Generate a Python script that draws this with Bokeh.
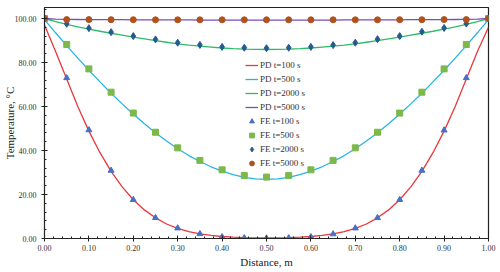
from bokeh.plotting import figure
from bokeh.models import Range1d, SingleIntervalTicker, Legend, LegendItem, NumeralTickFormatter
from bokeh.embed import file_html
from bokeh.resources import INLINE

# PD (line) data
x_pd = [0.0, 0.025, 0.05, 0.075, 0.1, 0.125, 0.15, 0.175, 0.2, 0.225, 0.25, 0.275, 0.3, 0.325, 0.35,
        0.375, 0.4, 0.425, 0.45, 0.475, 0.5, 0.525, 0.55, 0.575, 0.6, 0.625, 0.65, 0.675, 0.7, 0.725,
        0.75, 0.775, 0.8, 0.825, 0.85, 0.875, 0.9, 0.925, 0.95, 0.975, 1.0]
pd_100 = [97.0, 85.0, 72.5, 60.0, 48.8, 39.0, 30.5, 23.5, 17.6, 13.0, 9.4, 6.6, 4.6, 3.1, 2.1,
          1.4, 0.9, 0.6, 0.4, 0.3, 0.3, 0.3, 0.4, 0.6, 0.9, 1.4, 2.1, 3.1, 4.6, 6.6,
          9.4, 13.0, 17.6, 23.5, 30.5, 39.0, 48.8, 60.0, 72.5, 85.0, 96.0]
pd_500 = [99.5, 93.5, 87.7, 82.0, 76.5, 71.2, 66.0, 61.2, 56.6, 52.2, 48.1, 44.3, 40.8, 37.7, 35.0,
          32.6, 30.6, 29.0, 27.8, 27.1, 26.9, 27.1, 27.8, 29.0, 30.6, 32.6, 35.0, 37.7, 40.8, 44.3,
          48.1, 52.2, 56.6, 61.2, 66.0, 71.2, 76.5, 82.0, 87.7, 93.5, 99.5]
pd_2000 = [100.0, 98.6, 97.3, 96.2, 95.2, 94.2, 93.3, 92.4, 91.5, 90.7, 89.9, 89.2, 88.5, 87.9, 87.4,
           87.0, 86.6, 86.3, 86.1, 86.0, 85.9, 86.0, 86.1, 86.3, 86.6, 87.0, 87.4, 87.9, 88.5, 89.2,
           89.9, 90.7, 91.5, 92.4, 93.3, 94.2, 95.2, 96.2, 97.3, 98.6, 100.0]
pd_5000 = [100.0, 99.75, 99.6, 99.55, 99.5, 99.5, 99.45, 99.45, 99.4, 99.4, 99.4, 99.35, 99.35, 99.35, 99.3,
           99.3, 99.3, 99.3, 99.3, 99.3, 99.3, 99.3, 99.3, 99.3, 99.3, 99.3, 99.3, 99.35, 99.35, 99.35,
           99.4, 99.4, 99.4, 99.45, 99.45, 99.5, 99.5, 99.55, 99.6, 99.75, 100.0]

# FE (marker) data
x_fe = [0.0, 0.05, 0.1, 0.15, 0.2, 0.25, 0.3, 0.35, 0.4, 0.45, 0.5,
        0.55, 0.6, 0.65, 0.7, 0.75, 0.8, 0.85, 0.9, 0.95, 1.0]
fe_100 = [100.0, 73.0, 49.3, 30.9, 17.6, 9.4, 4.7, 2.1, 0.7, 0.2, 0.1,
          0.2, 0.7, 2.0, 4.7, 9.4, 17.6, 30.9, 49.2, 73.0, 100.0]
fe_500 = [100.0, 88.2, 77.1, 66.5, 57.0, 48.3, 41.2, 35.5, 31.2, 28.6, 27.9,
          28.6, 31.2, 35.5, 41.2, 48.3, 57.0, 66.5, 77.1, 88.2, 100.0]
fe_2000 = [100.0, 97.6, 95.6, 93.8, 92.0, 90.5, 89.0, 88.0, 87.1, 86.7, 86.5,
           86.7, 87.1, 87.9, 89.0, 90.6, 92.0, 94.0, 95.7, 97.7, 100.0]
fe_5000 = [100.0, 99.5, 99.5, 99.45, 99.45, 99.4, 99.4, 99.4, 99.4, 99.4, 99.4,
           99.4, 99.4, 99.4, 99.4, 99.4, 99.45, 99.45, 99.5, 99.5, 100.0]

x_ticks_interval = 0.1
y_ticks_interval = 20

FONT = "Liberation Serif"

p = figure(width=500, height=272, output_backend="svg", toolbar_location=None,
           x_range=Range1d(0, 1), y_range=Range1d(0, 105),
           min_border_left=43, min_border_right=12, min_border_top=7, min_border_bottom=34)
p.xgrid.visible = False
p.ygrid.visible = False
p.outline_line_color = "#222222"
p.outline_line_width = 1.2
p.background_fill_color = "white"
p.border_fill_color = "white"

p.xaxis.ticker = SingleIntervalTicker(interval=x_ticks_interval, num_minor_ticks=5)
p.yaxis.ticker = SingleIntervalTicker(interval=y_ticks_interval, num_minor_ticks=5)
p.xaxis.formatter = NumeralTickFormatter(format="0.00")
p.yaxis.formatter = NumeralTickFormatter(format="0.00")
for ax in (p.xaxis[0], p.yaxis[0]):
    ax.major_tick_in = 3
    ax.major_tick_out = 3
    ax.minor_tick_in = 2
    ax.minor_tick_out = 0
    ax.axis_line_color = "#222222"
    ax.major_tick_line_color = "#222222"
    ax.minor_tick_line_color = "#222222"
    ax.major_label_text_font = FONT
    ax.major_label_text_font_size = "8px"
    ax.major_label_text_color = "#333333"
    ax.axis_label_text_font = FONT
    ax.axis_label_text_font_size = "11px"
    ax.axis_label_text_font_style = "normal"
    ax.axis_label_text_color = "#222222"
p.xaxis.axis_label = "Distance, m"
p.yaxis.axis_label = "Temperature, °C"
p.xaxis.major_label_standoff = 3
p.yaxis.major_label_standoff = 5
p.xaxis.axis_label_standoff = 2
p.yaxis.axis_label_standoff = -4

lw = 1.3
r1 = p.line(x_pd, pd_100, line_color="#e8383b", line_width=lw)
r2 = p.line(x_pd, pd_500, line_color="#27b4e3", line_width=lw)
r3 = p.line(x_pd, pd_2000, line_color="#2dbb6a", line_width=lw)
r4 = p.line(x_pd, pd_5000, line_color="#7a4db8", line_width=lw)

m1 = p.scatter(x_fe, fe_100, marker="triangle", size=6, fill_color="#4a6fc6", line_color="#4a6fc6")
m2 = p.scatter(x_fe, fe_500, marker="square", size=6, fill_color="#7cb84a", line_color="#7cb84a")
m3 = p.scatter(x_fe, fe_2000, marker="diamond", size=7, fill_color="#245b8e", line_color="#245b8e")
m4 = p.scatter(x_fe, fe_5000, marker="circle", size=6, fill_color="#b0521c", line_color="#b0521c")

legend = Legend(items=[
    LegendItem(label="PD t=100 s", renderers=[r1]),
    LegendItem(label="PD t=500 s", renderers=[r2]),
    LegendItem(label="PD t=2000 s", renderers=[r3]),
    LegendItem(label="PD t=5000 s", renderers=[r4]),
    LegendItem(label="FE t=100 s", renderers=[m1]),
    LegendItem(label="FE t=500 s", renderers=[m2]),
    LegendItem(label="FE t=2000 s", renderers=[m3]),
    LegendItem(label="FE t=5000 s", renderers=[m4]),
], location=(201, 69))
legend.border_line_color = None
legend.background_fill_alpha = 0
legend.padding = 0
legend.margin = 0
legend.spacing = 2
legend.label_height = 12
legend.glyph_height = 12
legend.glyph_width = 13
legend.label_standoff = 2
legend.label_text_font = FONT
legend.label_text_font_size = "9px"
legend.label_text_color = "#333333"
p.add_layout(legend, "center")

open("out.html", "w").write(file_html(p, INLINE))
